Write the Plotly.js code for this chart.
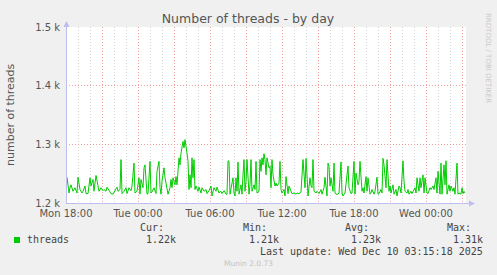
<!DOCTYPE html>
<html><head><meta charset="utf-8">
<script src="https://cdn.plot.ly/plotly-3.0.1.min.js"></script>
<style>html,body{margin:0;padding:0;background:#F0F0F0;}#chart{width:497px;height:275px;}</style>
</head><body><div id="chart"></div>
<script>
// ---- data ----
const monDate = "2025-12-08";
const monTimes = ["18:05","18:15","18:20","18:25","18:35","18:45","18:55","19:00","19:10","19:20","19:25","19:35","19:40","19:50","20:00","20:05","20:15","20:20","20:30","20:40","20:45","20:55","21:05","21:10","21:20","21:25","21:35","21:45","21:55","22:05","22:15","22:20","22:30","22:35","22:40","22:50","23:00","23:05","23:15","23:25","23:30","23:40","23:45","23:55"];
const monThreads = [1244,1217,1226,1231,1220,1226,1217,1244,1223,1217,1220,1229,1216,1216,1243,1229,1240,1220,1247,1231,1220,1226,1221,1223,1220,1227,1221,1216,1215,1220,1227,1220,1223,1274,1216,1220,1226,1216,1226,1221,1229,1268,1217,1220];

const tueDate = "2025-12-09";
const tueTimes = ["00:05","00:10","00:15","00:25","00:30","00:35","00:45","00:50","01:00","01:05","01:10","01:20","01:30","01:35","01:45","01:50","01:55","02:00","02:10","02:15","02:25","02:30","02:40","02:45","02:50","02:55","03:05","03:10","03:15","03:20","03:25","03:30","03:35","03:45","03:50","03:55","04:00","04:05","04:10","04:15","04:20","04:25","04:30","04:35","04:40","04:45","04:50","05:00","05:05","05:15","05:20","05:30","05:40","05:45","05:55","06:05","06:10","06:20","06:30","06:35","06:45","06:55","07:00","07:10","07:20","07:25","07:30","07:35","07:40","07:45","07:55","08:00","08:05","08:10","08:15","08:20","08:25","08:35","08:40","08:45","08:50","08:55","09:00","09:05","09:15","09:20","09:25","09:30","09:40","09:45","09:50","09:55","10:05","10:10","10:15","10:20","10:25","10:30","10:35","10:40","10:45","10:55","11:00","11:05","11:10","11:15","11:25","11:30","11:35","11:45","11:50","11:55","12:00","12:10","12:15","12:20","12:30","12:35","12:45","12:50","13:00","13:10","13:15","13:25","13:35","13:40","13:45","13:55","14:00","14:05","14:10","14:20","14:25","14:30","14:35","14:40","14:50","14:55","15:05","15:15","15:20","15:30","15:35","15:45","15:50","15:55","16:00","16:05","16:15","16:20","16:25","16:30","16:40","16:45","16:55","17:00","17:05","17:15","17:20","17:30","17:35","17:45","17:50","18:00","18:05","18:10","18:20","18:25","18:30","18:40","18:45","18:50","19:00","19:05","19:10","19:20","19:25","19:30","19:40","19:45","19:55","20:00","20:05","20:15","20:20","20:25","20:30","20:40","20:45","20:55","21:00","21:05","21:15","21:20","21:30","21:35","21:45","21:50","21:55","22:05","22:10","22:15","22:25","22:30","22:35","22:45","22:50","22:55","23:05","23:10","23:15","23:25","23:30","23:35","23:45","23:50","23:55"];
const tueThreads = [1243,1215,1240,1226,1260,1265,1215,1216,1271,1217,1219,1226,1216,1254,1271,1226,1215,1237,1260,1243,1226,1215,1226,1240,1226,1243,1231,1245,1231,1260,1277,1265,1285,1305,1294,1308,1299,1285,1271,1223,1248,1226,1277,1243,1274,1223,1229,1220,1227,1217,1226,1220,1223,1216,1221,1229,1212,1226,1220,1227,1217,1220,1216,1221,1215,1215,1272,1271,1215,1223,1243,1217,1212,1243,1220,1270,1215,1231,1215,1248,1274,1220,1237,1274,1215,1231,1274,1220,1231,1223,1271,1217,1220,1274,1254,1277,1265,1284,1274,1248,1277,1260,1263,1226,1274,1248,1229,1234,1229,1234,1271,1223,1217,1223,1212,1245,1216,1229,1220,1216,1217,1215,1217,1216,1219,1243,1274,1226,1276,1248,1212,1243,1229,1226,1274,1220,1217,1220,1216,1223,1215,1226,1244,1212,1268,1263,1229,1243,1220,1268,1217,1215,1215,1217,1270,1217,1212,1217,1231,1263,1226,1216,1217,1271,1215,1251,1231,1237,1271,1220,1226,1217,1245,1220,1243,1215,1217,1223,1215,1220,1244,1215,1216,1223,1217,1276,1265,1226,1274,1220,1229,1217,1231,1215,1223,1212,1229,1226,1217,1272,1237,1220,1217,1223,1215,1220,1216,1220,1226,1217,1243,1220,1243,1226,1248,1217,1243];

const wedDate = "2025-12-10";
const wedTimes = ["00:05","00:10","00:20","00:25","00:35","00:40","00:50","00:55","01:00","01:10","01:15","01:20","01:30","01:35","01:40","01:45","01:55","02:00","02:05","02:15","02:20","02:25","02:35","02:40","02:45","02:55","03:00","03:05","03:10","03:15"];
const wedThreads = [1217,1216,1226,1223,1229,1223,1243,1217,1254,1215,1268,1215,1265,1231,1272,1215,1231,1220,1229,1220,1226,1215,1268,1215,1217,1215,1226,1216,1220,1217];

const xRange = ["2025-12-08 18:00", "2025-12-10 03:20"];
const xTickVals = ["2025-12-08 18:00","2025-12-08 21:00","2025-12-09 00:00","2025-12-09 03:00","2025-12-09 06:00","2025-12-09 09:00","2025-12-09 12:00","2025-12-09 15:00","2025-12-09 18:00","2025-12-09 21:00","2025-12-10 00:00","2025-12-10 03:00"];
const xTickText = ["Mon 18:00","","Tue 00:00","","Tue 06:00","","Tue 12:00","","Tue 18:00","","Wed 00:00",""];
const yTickVals = [1200, 1300, 1400, 1500];
const yTickText = ["1.2 k", "1.3 k", "1.4 k", "1.5 k"];

const seriesName = "threads";
const statLabels = ["Cur:", "Min:", "Avg:", "Max:"];
const statValues = ["1.22k", "1.21k", "1.23k", "1.31k"];
const titleText = "Number of threads - by day";
const yTitleText = "number of threads";
const lastUpdate = "Last update: Wed Dec 10 03:15:18 2025";
const footer = "Munin 2.0.73";
const sideText = "RRDTOOL / TOBI OETIKER";

// ---- build ----
const times = [].concat(
  monTimes.map(t => monDate + " " + t),
  tueTimes.map(t => tueDate + " " + t),
  wedTimes.map(t => wedDate + " " + t));
const threads = [].concat(monThreads, tueThreads, wedThreads);

// layout geometry (pixels)
const L = 66, T = 27, W = 400, H = 176;
const px = x => (x - L) / W;
const py = y => (T + H - y) / H;

const FONT = "DejaVu Sans, sans-serif";
const MONO = "DejaVu Sans Mono, monospace";
const AXC = "#BDBDF0";

const statLabelRight = [163.5, 266.5, 368.5, 470.5];
const statValueRight = [176, 279, 381, 483];

const annotations = [
  {text: yTitleText, x: px(11), y: py(114), xanchor: "center", textangle: -90, font: {family: FONT, size: 11, color: "#555"}},
  {text: seriesName, x: px(26.5), y: py(239.7), xanchor: "left", font: {family: MONO, size: 10, color: "#444"}},
  {text: lastUpdate, x: px(483), y: py(251.7), xanchor: "right", font: {family: MONO, size: 10, color: "#444"}},
  {text: footer, x: px(248), y: py(263.3), xanchor: "center", font: {family: FONT, size: 7.5, color: "#C4C4C4"}},
  {text: sideText, x: px(488), y: py(58), xanchor: "center", textangle: 90, font: {family: FONT, size: 7, color: "#CACACA"}}
];
statLabels.forEach((s, i) => annotations.push({text: s, x: px(statLabelRight[i]), y: py(227.3), xanchor: "right", font: {family: MONO, size: 10, color: "#444"}}));
statValues.forEach((s, i) => annotations.push({text: s, x: px(statValueRight[i]), y: py(239.7), xanchor: "right", font: {family: MONO, size: 10, color: "#444"}}));
annotations.forEach(a => { a.xref = "paper"; a.yref = "paper"; a.showarrow = false; a.borderpad = 0; a.borderwidth = 0; a.yanchor = "middle"; });

const shapes = [
  {type: "rect", xref: "paper", yref: "paper", x0: px(14), x1: px(20), y0: py(243), y1: py(237), fillcolor: "#00CC00", line: {width: 0}},
  {type: "line", xref: "paper", yref: "paper", x0: px(66), x1: px(470), y0: py(203.5), y1: py(203.5), line: {color: AXC, width: 1}},
  {type: "line", xref: "paper", yref: "paper", x0: px(66.5), x1: px(66.5), y0: py(203.5), y1: py(24), line: {color: AXC, width: 1}},
  {type: "path", xref: "paper", yref: "paper", path: `M ${px(63.5)} ${py(27)} L ${px(69.5)} ${py(27)} L ${px(66.5)} ${py(21)} Z`, fillcolor: AXC, line: {width: 0}},
  {type: "path", xref: "paper", yref: "paper", path: `M ${px(469)} ${py(200.5)} L ${px(469)} ${py(206.5)} L ${px(475)} ${py(203.5)} Z`, fillcolor: AXC, line: {width: 0}}
];

const trace = {
  x: times, y: threads, type: "scatter", mode: "lines",
  line: {color: "#00CC00", width: 1}, name: seriesName, hoverinfo: "skip"
};

const layout = {
  width: 497, height: 275,
  margin: {l: L, r: 497 - L - W, t: T, b: 275 - T - H, pad: 0},
  paper_bgcolor: "#F0F0F0", plot_bgcolor: "#FFFFFF",
  showlegend: false,
  font: {family: FONT, size: 10, color: "#555"},
  title: {text: titleText, xref: "container", yref: "container", x: 248 / 497, y: 1 - 19 / 275, xanchor: "center", yanchor: "middle", font: {family: FONT, size: 12.5, color: "#555"}},
  xaxis: {
    type: "date", range: xRange, tickmode: "array", tickvals: xTickVals, ticktext: xTickText,
    showgrid: true, gridcolor: "#F2A0A0", griddash: "1px,2px", gridwidth: 1,
    minor: {dtick: 3600000, tick0: "2025-12-08 18:00", showgrid: true, gridcolor: "#D4D4D4", griddash: "1px,2px", gridwidth: 1, ticks: ""},
    ticks: "", ticklabelstandoff: 3, showline: false, zeroline: false,
    tickfont: {family: FONT, size: 10, color: "#555"}, fixedrange: true
  },
  yaxis: {
    range: [1200, 1500], tickmode: "array", tickvals: yTickVals, ticktext: yTickText,
    showgrid: true, gridcolor: "#F2A0A0", griddash: "1px,2px", gridwidth: 1,
    ticks: "", ticklabelstandoff: 5, showline: false, zeroline: false,
    tickfont: {family: FONT, size: 10, color: "#555"}, fixedrange: true
  },
  annotations: annotations,
  shapes: shapes
};

Plotly.newPlot("chart", [trace], layout, {staticPlot: true, displayModeBar: false});
</script>
</body></html>
